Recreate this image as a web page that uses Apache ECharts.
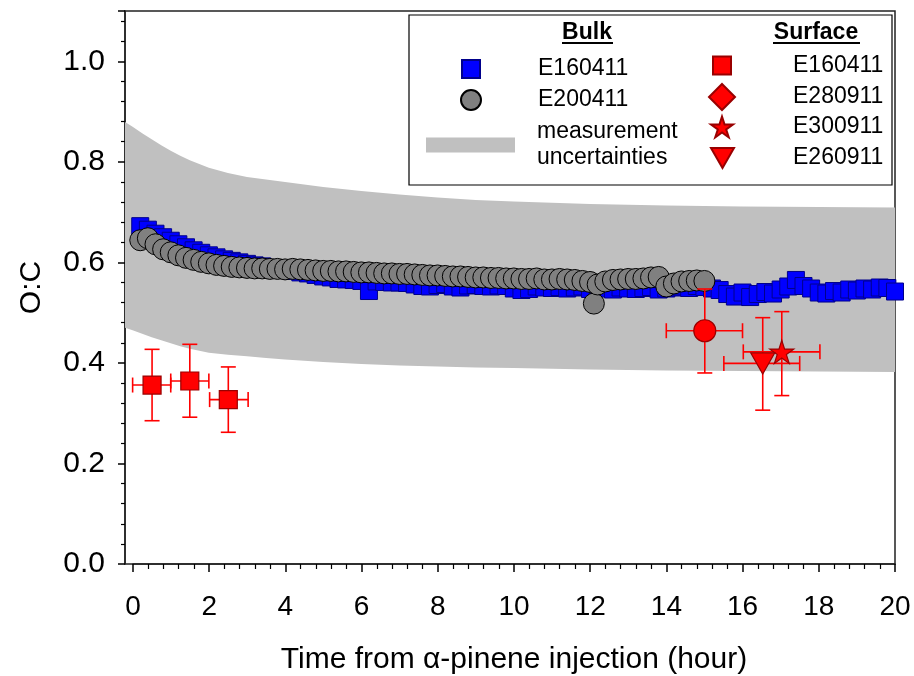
<!DOCTYPE html>
<html>
<head>
<meta charset="utf-8">
<script src="https://cdn.jsdelivr.net/npm/echarts@6/dist/echarts.min.js"></script>
<style>html,body{margin:0;padding:0;background:#fff}#c{width:914px;height:676px}</style>
</head>
<body>
<div id="c"></div>
<script>
// ---------------- data ----------------
const yTickValues = [0, 0.2, 0.4, 0.6, 0.8, 1.0];
const yTickLabels = ['0.0', '0.2', '0.4', '0.6', '0.8', '1.0'];
const xTickValues = [0, 2, 4, 6, 8, 10, 12, 14, 16, 18, 20];
const xTickLabels = ['0', '2', '4', '6', '8', '10', '12', '14', '16', '18', '20'];

// measurement uncertainty band
const bandTime  = [-0.2, 0, 0.25, 0.5, 0.75, 1, 1.25, 1.5, 2, 2.5, 3, 3.5, 4, 5, 6, 7, 8, 9, 10, 12, 14, 16, 18, 20];
const bandUpper = [0.879, 0.870, 0.857, 0.845, 0.833, 0.822, 0.812, 0.803, 0.788, 0.778, 0.770, 0.765, 0.760, 0.750, 0.742, 0.735, 0.729, 0.724, 0.721, 0.716, 0.713, 0.711, 0.710, 0.709];
const bandLower = [0.470, 0.465, 0.458, 0.451, 0.445, 0.439, 0.433, 0.428, 0.420, 0.416, 0.413, 0.410, 0.407, 0.402, 0.398, 0.395, 0.393, 0.391, 0.390, 0.387, 0.385, 0.384, 0.383, 0.382];

// Bulk E160411 (blue squares)
const bulkATime = [0.2,0.4,0.6,0.8,1.0,1.2,1.4,1.6,1.8,2.0,2.2,2.4,2.6,2.8,3.0,3.2,3.4,3.6,3.8,4.0,
  4.2,4.4,4.6,4.8,5.0,5.2,5.4,5.6,5.8,6.0,6.2,6.4,6.6,6.8,7.0,7.2,7.4,7.6,7.8,8.0,
  8.2,8.4,8.6,8.8,9.0,9.2,9.4,9.6,9.8,10.0,10.2,10.4,10.6,10.8,11.0,11.2,11.4,11.6,11.8,12.0,
  12.2,12.4,12.6,12.8,13.0,13.2,13.4,13.6,13.8,14.0,14.2,14.4,14.6,14.8,15.0,15.2,15.4,15.6,15.8,16.0,
  16.2,16.4,16.6,16.8,17.0,17.2,17.4,17.6,17.8,18.0,18.2,18.4,18.6,18.8,19.0,19.2,19.4,19.6,19.8,20.0];
const bulkAOC = [0.672,0.665,0.657,0.650,0.643,0.636,0.630,0.624,0.619,0.614,0.610,0.606,0.603,0.600,0.597,0.594,0.592,0.589,0.587,0.585,
  0.583,0.580,0.578,0.575,0.572,0.570,0.567,0.566,0.565,0.563,0.543,0.562,0.561,0.560,0.560,0.559,0.556,0.553,0.552,0.555,
  0.557,0.552,0.550,0.554,0.555,0.553,0.552,0.554,0.553,0.548,0.545,0.547,0.552,0.550,0.549,0.551,0.548,0.550,0.552,0.547,
  0.549,0.548,0.546,0.550,0.548,0.547,0.549,0.551,0.546,0.548,0.550,0.552,0.549,0.553,0.551,0.548,0.545,0.537,0.532,0.540,
  0.531,0.537,0.541,0.538,0.546,0.552,0.565,0.553,0.548,0.540,0.538,0.543,0.540,0.546,0.544,0.548,0.546,0.550,0.549,0.542];

// Bulk E200411 (grey circles)
const bulkBTime = [0.2,0.4,0.6,0.8,1.0,1.2,1.4,1.6,1.8,2.0,2.2,2.4,2.6,2.8,3.0,3.2,3.4,3.6,3.8,4.0,
  4.2,4.4,4.6,4.8,5.0,5.2,5.4,5.6,5.8,6.0,6.2,6.4,6.6,6.8,7.0,7.2,7.4,7.6,7.8,8.0,
  8.2,8.4,8.6,8.8,9.0,9.2,9.4,9.6,9.8,10.0,10.2,10.4,10.6,10.8,11.0,11.2,11.4,11.6,11.8,12.0,12.1,
  12.2,12.4,12.6,12.8,13.0,13.2,13.4,13.6,13.8,14.0,14.2,14.4,14.6,14.8,15.0];
const bulkBOC = [0.644,0.648,0.636,0.626,0.620,0.614,0.609,0.605,0.601,0.598,0.595,0.593,0.591,0.590,0.589,0.588,0.588,0.587,0.587,0.586,
  0.587,0.586,0.585,0.584,0.583,0.583,0.582,0.582,0.581,0.580,0.580,0.579,0.578,0.578,0.577,0.577,0.576,0.575,0.574,0.574,
  0.573,0.572,0.572,0.571,0.570,0.570,0.569,0.569,0.568,0.568,0.567,0.567,0.568,0.566,0.566,0.567,0.566,0.565,0.563,0.561,0.518,
  0.556,0.562,0.565,0.566,0.567,0.567,0.568,0.570,0.571,0.552,0.558,0.562,0.563,0.564,0.563];

// Surface E160411 (red squares)
const surfATime = [0.51, 1.50, 2.51];
const surfAOC = [0.356, 0.364, 0.327];
const surfATimeLow = [0.00, 1.00, 2.02];
const surfATimeHigh = [1.00, 2.00, 3.03];
const surfAOCLow = [0.285, 0.292, 0.262];
const surfAOCHigh = [0.427, 0.437, 0.392];

// Surface E280911
const surfBTime = [15.01];
const surfBOC = [0.464];
const surfBTimeLow = [14.00];
const surfBTimeHigh = [16.00];
const surfBOCLow = [0.380];
const surfBOCHigh = [0.547];

// Surface E300911 (star)
const surfCTime = [17.03];
const surfCOC = [0.422];
const surfCTimeLow = [16.02];
const surfCTimeHigh = [18.03];
const surfCOCLow = [0.335];
const surfCOCHigh = [0.502];

// Surface E260911 (down triangle)
const surfDTime = [16.53];
const surfDOC = [0.399];
const surfDTimeLow = [15.51];
const surfDTimeHigh = [17.50];
const surfDOCLow = [0.306];
const surfDOCHigh = [0.490];

// ---------------- chart ----------------
const FONT = '"Liberation Sans", Arial, sans-serif';
const STAR = 'path://M50,0 L61.2,34.5 L97.6,34.5 L68.2,55.9 L79.4,90.5 L50,69.1 L20.6,90.5 L31.8,55.9 L2.4,34.5 L38.8,34.5 Z';
const TRI_DOWN = 'path://M0,0 L100,0 L50,87 Z';

const zip = (a, b) => a.map((v, i) => [v, b[i]]);
const errData = (t, v, tl, th, vl, vh) => t.map((x, i) => [x, v[i], tl[i], th[i], vl[i], vh[i]]);

const displayNames = {
  bulkA: 'E160411', bulkB: 'E200411', band: 'measurement\nuncertainties',
  surfA: 'E160411', surfB: 'E280911', surfC: 'E300911', surfD: 'E260911'
};

function errRender(params, api) {
  const x = api.value(0), y = api.value(1);
  const pL = api.coord([api.value(2), y]);
  const pR = api.coord([api.value(3), y]);
  const pB = api.coord([x, api.value(4)]);
  const pT = api.coord([x, api.value(5)]);
  const c = 7.5;
  const st = { stroke: '#ff0000', lineWidth: 1.6 };
  const ln = (x1, y1, x2, y2) => ({ type: 'line', shape: { x1, y1, x2, y2 }, style: st });
  return {
    type: 'group',
    children: [
      ln(pL[0], pL[1], pR[0], pR[1]),
      ln(pB[0], pB[1], pT[0], pT[1]),
      ln(pL[0], pL[1] - c, pL[0], pL[1] + c),
      ln(pR[0], pR[1] - c, pR[0], pR[1] + c),
      ln(pB[0] - c, pB[1], pB[0] + c, pB[1]),
      ln(pT[0] - c, pT[1], pT[0] + c, pT[1])
    ]
  };
}

function bandRender(params, api) {
  if (params.dataIndex !== 0) return null;
  const pts = [];
  for (let i = 0; i < bandTime.length; i++) pts.push(api.coord([bandTime[i], bandUpper[i]]));
  for (let i = bandTime.length - 1; i >= 0; i--) pts.push(api.coord([bandTime[i], bandLower[i]]));
  return { type: 'polygon', shape: { points: pts }, style: { fill: '#c0c0c0', stroke: null } };
}

function legendItem(name, icon, left, top, w, h, pad, extra) {
  return Object.assign({
    show: true, orient: 'vertical', left: left, top: top, padding: 0,
    itemWidth: w, itemHeight: h, itemGap: 0, selectedMode: false,
    data: [{ name: name, icon: icon }],
    formatter: n => displayNames[n],
    textStyle: { fontSize: 23, color: '#000', fontFamily: FONT, lineHeight: 26, padding: [0, 0, 0, pad] }
  }, extra || {});
}

const redItem = { color: '#ff0000', borderColor: '#990000', borderWidth: 1.2, opacity: 1 };

const option = {
  animation: false,
  backgroundColor: '#fff',
  grid: [
    { left: 125, right: 19, top: 11, bottom: 112, show: true, borderColor: '#222', borderWidth: 1.5, backgroundColor: 'transparent', containLabel: false, outerBoundsMode: 'none' },
    { left: 133, right: 19, top: 11, bottom: 112, show: false, containLabel: false, outerBoundsMode: 'none' }
  ],
  xAxis: [
    { gridIndex: 0, type: 'value', min: -0.2, max: 20, show: false },
    {
      gridIndex: 1, type: 'value', min: 0, max: 20, interval: 2,
      axisLine: { show: true, onZero: false, lineStyle: { color: '#222', width: 1.5 } },
      axisTick: { show: true, inside: false, length: 8, lineStyle: { color: '#000', width: 1.5 } },
      minorTick: { show: true, splitNumber: 5, length: 5, lineStyle: { color: '#000', width: 1.2 } },
      splitLine: { show: false },
      axisLabel: {
        margin: 29, fontSize: 28, color: '#000', fontFamily: FONT,
        formatter: v => { const i = xTickValues.indexOf(Math.round(v)); return i >= 0 ? xTickLabels[i] : ''; }
      },
      name: 'Time from \u03B1-pinene injection (hour)', nameLocation: 'middle', nameGap: 81,
      nameTextStyle: { fontSize: 30, color: '#000', fontFamily: FONT }
    }
  ],
  yAxis: [
    {
      gridIndex: 0, type: 'value', min: 0, max: 1.1, interval: 0.2,
      axisLine: { show: true, onZero: false, lineStyle: { color: '#222', width: 1.5 } },
      axisTick: { show: true, inside: false, length: 7, lineStyle: { color: '#000', width: 1.5 } },
      minorTick: { show: true, splitNumber: 5, length: 4, lineStyle: { color: '#000', width: 1.2 } },
      splitLine: { show: false },
      axisLabel: {
        margin: 20, fontSize: 30, color: '#000', fontFamily: FONT,
        formatter: v => {
          for (let i = 0; i < yTickValues.length; i++) if (Math.abs(v - yTickValues[i]) < 1e-6) return yTickLabels[i];
          return '';
        }
      },
      name: 'O:C', nameLocation: 'middle', nameGap: 78,
      nameTextStyle: { fontSize: 30, color: '#000', fontFamily: FONT }
    },
    { gridIndex: 1, type: 'value', min: 0, max: 1.1, show: false }
  ],
  legend: [
    legendItem('bulkA', 'rect', 461, 56, 18, 18, 53),
    legendItem('bulkB', 'circle', 460, 87, 20, 20, 52),
    legendItem('band', 'rect', 426, 119, 89, 15, 17, { data: [{ name: 'band', icon: 'rect', itemStyle: { color: '#c0c0c0', borderWidth: 0, opacity: 1 } }] }),
    legendItem('surfA', 'rect', 712, 52.5, 18, 18, 57),
    legendItem('surfB', 'diamond', 708, 83, 26, 26, 53),
    legendItem('surfC', STAR, 710, 114, 22, 22, 55),
    legendItem('surfD', TRI_DOWN, 710, 145, 23, 20, 54)
  ],
  graphic: [
    { type: 'rect', shape: { x: 409, y: 15, width: 483, height: 170 }, style: { fill: 'none', stroke: '#000', lineWidth: 1.2 }, z: 10 },
    { type: 'text', x: 587, y: 33, style: { text: 'Bulk', fontSize: 23, fontWeight: 'bold', fontFamily: FONT, fill: '#000', align: 'center', verticalAlign: 'middle' }, z: 10 },
    { type: 'line', shape: { x1: 562, y1: 43, x2: 613, y2: 43 }, style: { stroke: '#000', lineWidth: 2 }, z: 10 },
    { type: 'text', x: 816, y: 33, style: { text: 'Surface', fontSize: 23, fontWeight: 'bold', fontFamily: FONT, fill: '#000', align: 'center', verticalAlign: 'middle' }, z: 10 },
    { type: 'line', shape: { x1: 773, y1: 43, x2: 860, y2: 43 }, style: { stroke: '#000', lineWidth: 2 }, z: 10 }
  ],
  series: [
    {
      name: 'band', type: 'custom', xAxisIndex: 0, yAxisIndex: 0, renderItem: bandRender,
      data: bandTime.map((t, i) => [t, bandLower[i], bandUpper[i]]),
      encode: { x: 0, y: [1, 2] },
      itemStyle: { color: '#c0c0c0', opacity: 1 }, z: 1, silent: true
    },
    {
      name: 'bulkA', type: 'scatter', xAxisIndex: 0, yAxisIndex: 0,
      data: zip(bulkATime, bulkAOC), symbol: 'rect', symbolSize: 17,
      itemStyle: { color: '#0000ff', borderColor: '#00008b', borderWidth: 1, opacity: 1 }, z: 2
    },
    {
      name: 'bulkB', type: 'scatter', xAxisIndex: 0, yAxisIndex: 0,
      data: zip(bulkBTime, bulkBOC), symbol: 'circle', symbolSize: 21,
      itemStyle: { color: '#808080', borderColor: '#000', borderWidth: 1, opacity: 1 }, z: 3
    },
    {
      name: 'errA', type: 'custom', xAxisIndex: 0, yAxisIndex: 0, renderItem: errRender,
      data: errData(surfATime, surfAOC, surfATimeLow, surfATimeHigh, surfAOCLow, surfAOCHigh),
      encode: { x: 0, y: 1 }, z: 4, silent: true
    },
    {
      name: 'errB', type: 'custom', xAxisIndex: 0, yAxisIndex: 0, renderItem: errRender,
      data: errData(surfBTime, surfBOC, surfBTimeLow, surfBTimeHigh, surfBOCLow, surfBOCHigh),
      encode: { x: 0, y: 1 }, z: 4, silent: true
    },
    {
      name: 'errC', type: 'custom', xAxisIndex: 0, yAxisIndex: 0, renderItem: errRender,
      data: errData(surfCTime, surfCOC, surfCTimeLow, surfCTimeHigh, surfCOCLow, surfCOCHigh),
      encode: { x: 0, y: 1 }, z: 4, silent: true
    },
    {
      name: 'errD', type: 'custom', xAxisIndex: 0, yAxisIndex: 0, renderItem: errRender,
      data: errData(surfDTime, surfDOC, surfDTimeLow, surfDTimeHigh, surfDOCLow, surfDOCHigh),
      encode: { x: 0, y: 1 }, z: 4, silent: true
    },
    {
      name: 'surfA', type: 'scatter', xAxisIndex: 0, yAxisIndex: 0,
      data: zip(surfATime, surfAOC), symbol: 'rect', symbolSize: 18, itemStyle: redItem, z: 5
    },
    {
      name: 'surfB', type: 'scatter', xAxisIndex: 0, yAxisIndex: 0,
      data: zip(surfBTime, surfBOC), symbol: 'circle', symbolSize: 22, itemStyle: redItem, z: 5
    },
    {
      name: 'surfC', type: 'scatter', xAxisIndex: 0, yAxisIndex: 0,
      data: zip(surfCTime, surfCOC), symbol: STAR, symbolSize: [24, 23], itemStyle: redItem, z: 5
    },
    {
      name: 'surfD', type: 'scatter', xAxisIndex: 0, yAxisIndex: 0,
      data: zip(surfDTime, surfDOC), symbol: TRI_DOWN, symbolSize: [24, 21], itemStyle: redItem, z: 5
    }
  ]
};

const chart = echarts.init(document.getElementById('c'), null, { renderer: 'canvas' });
chart.setOption(option);
</script>
</body>
</html>
